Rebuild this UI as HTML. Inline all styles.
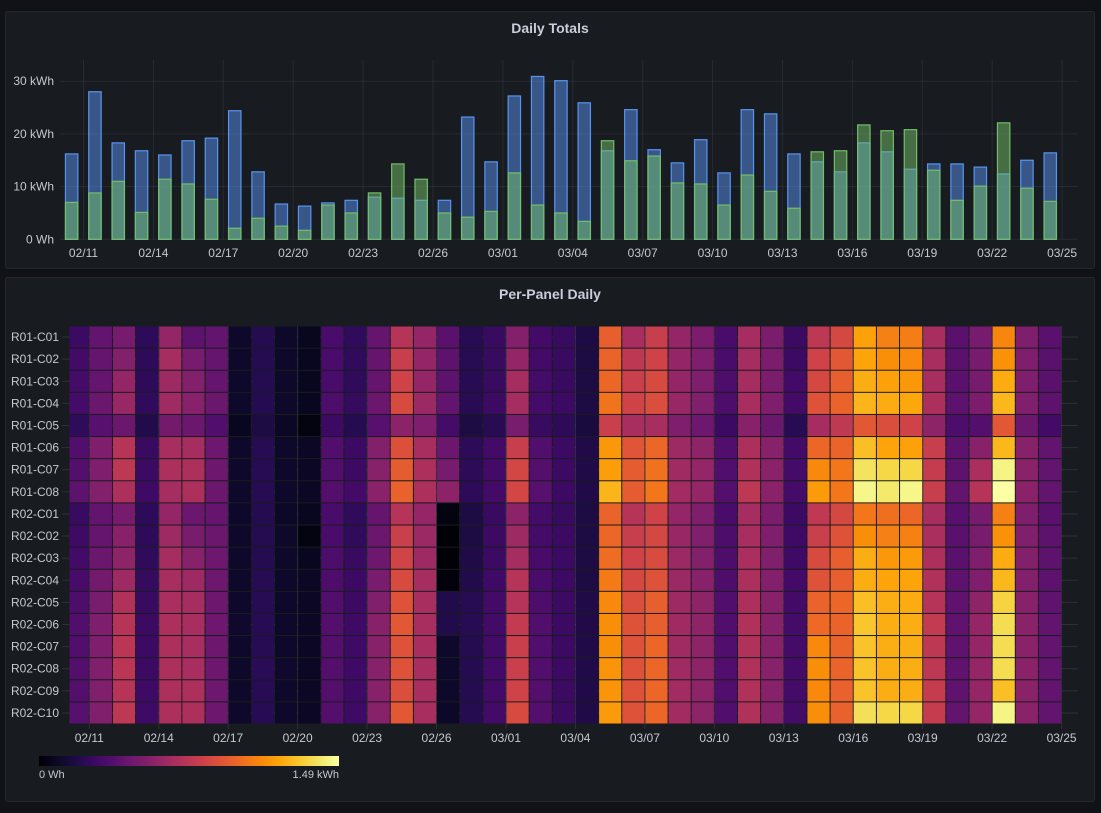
<!DOCTYPE html>
<html><head><meta charset="utf-8">
<style>
html,body{margin:0;padding:0;background:#111217;}
body{width:1101px;height:808px;overflow:hidden;font-family:"Liberation Sans",sans-serif;}
svg text{font-family:"Liberation Sans",sans-serif;}
</style></head>
<body>
<svg id="root" width="1101" height="808" viewBox="0 0 1101 808" xmlns="http://www.w3.org/2000/svg">
  <rect x="0" y="0" width="1101" height="808" fill="#111217"/>
  <rect x="5.5" y="11.5" width="1089" height="257" rx="2" fill="#181b1f" stroke="#24272d"/>
  <text x="550" y="33" text-anchor="middle" font-size="14" font-weight="600" fill="#ccccdc">Daily Totals</text>
  <rect x="5.5" y="277.5" width="1089" height="524" rx="2" fill="#181b1f" stroke="#24272d"/>
  <text x="550" y="299" text-anchor="middle" font-size="14" font-weight="600" fill="#ccccdc">Per-Panel Daily</text>
  <g id="topchart"></g>
  <g id="heat"></g>
  <g id="legend"></g>
</svg>
<script>
// ---- Daily Totals data (kWh) ----
const consumption = [16.2,28.0,18.3,16.8,16.0,18.7,19.2,24.4,12.8,6.7,6.3,6.9,7.4,8.0,7.8,7.4,7.4,23.2,14.7,27.2,30.9,30.1,25.9,16.8,24.6,17.0,14.5,18.9,12.6,24.6,23.8,16.2,14.7,12.8,18.3,16.6,13.3,14.3,14.3,13.7,12.4,15.0,16.4];
const production = [7.0,8.8,11.0,5.1,11.4,10.5,7.6,2.1,4.0,2.5,1.7,6.5,5.0,8.8,14.3,11.4,5.0,4.2,5.3,12.6,6.5,5.0,3.4,18.7,14.9,15.8,10.7,10.5,6.5,12.2,9.1,5.9,16.6,16.8,21.7,20.6,20.8,13.1,7.4,10.1,22.1,9.7,7.2];
const yTicks = [0,10,20,30];
const yTickLabels = ["0 Wh","10 kWh","20 kWh","30 kWh"];
const xTickDays = [1,4,7,10,13,16,19,22,25,28,31,34,37,40,43];
const xTickLabels = ["02/11","02/14","02/17","02/20","02/23","02/26","03/01","03/04","03/07","03/10","03/13","03/16","03/19","03/22","03/25"];

// ---- Heatmap data (kWh per panel per day) ----
const panelNames = ["R01-C01","R01-C02","R01-C03","R01-C04","R01-C05","R01-C06","R01-C07","R01-C08","R02-C01","R02-C02","R02-C03","R02-C04","R02-C05","R02-C06","R02-C07","R02-C08","R02-C09","R02-C10"];
const r01c01 = [.28,.42,.49,.24,.60,.40,.42,.10,.21,.10,.07,.33,.25,.43,.72,.60,.39,.22,.27,.54,.30,.27,.18,.95,.67,.79,.60,.51,.33,.66,.51,.28,.75,.85,1.18,1.07,1.06,.67,.39,.49,1.09,.52,.39];
const r01c02 = [.30,.43,.54,.24,.66,.49,.43,.10,.21,.10,.07,.33,.25,.43,.79,.60,.40,.22,.27,.60,.30,.27,.18,.97,.75,.82,.60,.52,.33,.66,.51,.28,.82,.92,1.19,1.12,1.10,.67,.39,.49,1.13,.52,.39];
const r01c03 = [.31,.43,.60,.24,.63,.54,.43,.10,.21,.10,.07,.33,.25,.43,.82,.60,.40,.22,.27,.66,.31,.27,.18,.98,.80,.86,.60,.52,.34,.66,.51,.30,.85,.95,1.22,1.18,1.15,.67,.39,.49,1.21,.52,.39];
const r01c04 = [.31,.45,.61,.25,.64,.55,.45,.10,.21,.10,.07,.34,.26,.45,.86,.62,.42,.22,.28,.66,.31,.28,.18,1.03,.82,.88,.61,.53,.34,.67,.52,.30,.90,.97,1.24,1.21,1.20,.69,.40,.51,1.25,.53,.40];
const r01c05 = [.25,.38,.45,.20,.48,.45,.36,.07,.18,.08,.03,.28,.21,.38,.57,.52,.31,.18,.22,.50,.27,.24,.16,.80,.67,.67,.52,.46,.28,.55,.45,.22,.66,.76,.92,.88,.82,.58,.34,.37,.92,.45,.30];
const r01c06 = [.36,.52,.72,.27,.67,.66,.46,.10,.22,.10,.08,.36,.28,.54,.89,.67,.45,.24,.30,.79,.36,.28,.19,1.15,.91,.98,.63,.58,.36,.69,.55,.30,.98,.97,1.27,1.19,1.18,.79,.40,.55,1.25,.55,.42];
const r01c07 = [.37,.52,.75,.28,.69,.69,.46,.10,.22,.10,.08,.36,.28,.55,.94,.69,.49,.24,.30,.84,.37,.28,.19,1.17,.94,1.02,.64,.60,.36,.70,.56,.31,1.10,1.04,1.38,1.34,1.34,.78,.40,.68,1.44,.56,.42];
const r01c08 = [.40,.54,.69,.29,.66,.69,.45,.10,.22,.10,.08,.37,.30,.56,.96,.69,.57,.24,.30,.84,.38,.28,.19,1.24,.94,1.04,.65,.60,.37,.75,.56,.31,1.16,1.04,1.45,1.40,1.45,.79,.42,.72,1.49,.56,.42];
const r02c01 = [.27,.42,.49,.24,.60,.45,.43,.10,.21,.09,.07,.33,.25,.43,.72,.60,.03,.18,.27,.57,.31,.27,.18,.97,.72,.82,.60,.52,.33,.66,.51,.28,.76,.85,1.04,1.01,.98,.67,.38,.49,1.07,.52,.39];
const r02c02 = [.29,.43,.55,.24,.63,.50,.45,.10,.21,.10,.03,.33,.25,.45,.80,.62,.01,.18,.28,.63,.31,.28,.18,.98,.79,.85,.61,.53,.34,.67,.52,.29,.80,.90,1.12,1.07,1.07,.68,.39,.50,1.13,.53,.40];
const r02c03 = [.30,.45,.58,.25,.66,.55,.46,.10,.21,.10,.07,.34,.27,.46,.83,.63,.01,.19,.28,.66,.32,.28,.18,1.00,.82,.87,.62,.54,.34,.68,.53,.29,.86,.95,1.22,1.15,1.16,.69,.39,.52,1.21,.54,.40];
const r02c04 = [.32,.48,.63,.26,.67,.63,.46,.10,.22,.10,.08,.35,.28,.50,.86,.66,.02,.20,.29,.72,.33,.28,.18,1.05,.85,.90,.62,.55,.35,.69,.54,.30,.90,.95,1.22,1.19,1.19,.70,.40,.52,1.25,.54,.40];
const r02c05 = [.34,.50,.70,.27,.68,.66,.46,.10,.22,.10,.08,.36,.28,.53,.90,.67,.20,.22,.30,.72,.35,.28,.19,1.10,.88,.95,.63,.58,.36,.69,.55,.30,.97,.98,1.27,1.22,1.21,.72,.41,.58,1.33,.55,.41];
const r02c06 = [.36,.52,.72,.28,.69,.67,.46,.11,.22,.10,.08,.37,.29,.55,.92,.67,.20,.22,.30,.77,.36,.28,.19,1.12,.90,.95,.64,.58,.36,.70,.55,.31,.99,.97,1.29,1.22,1.22,.77,.41,.60,1.36,.56,.42];
const r02c07 = [.36,.52,.74,.28,.69,.67,.46,.10,.22,.10,.08,.37,.29,.55,.90,.67,.10,.21,.30,.80,.36,.28,.19,1.12,.90,.98,.64,.58,.36,.70,.55,.31,1.10,.97,1.28,1.22,1.22,.75,.41,.60,1.36,.56,.42];
const r02c08 = [.37,.53,.74,.28,.69,.67,.46,.10,.23,.11,.08,.37,.29,.55,.90,.67,.10,.21,.30,.80,.36,.28,.19,1.14,.90,.98,.64,.58,.36,.70,.55,.31,1.12,.97,1.28,1.22,1.22,.75,.41,.60,1.36,.56,.42];
const r02c09 = [.37,.53,.72,.29,.69,.69,.46,.10,.22,.10,.08,.37,.29,.55,.88,.67,.10,.21,.30,.82,.37,.28,.19,1.14,.90,.98,.65,.58,.36,.70,.55,.31,1.10,.96,1.28,1.22,1.22,.78,.41,.60,1.27,.56,.42];
const r02c10 = [.38,.53,.75,.29,.69,.69,.46,.10,.22,.10,.08,.37,.29,.55,.92,.67,.09,.21,.30,.86,.37,.28,.19,1.16,.90,.98,.65,.58,.36,.70,.55,.31,1.12,.96,1.37,1.34,1.34,.78,.42,.60,1.44,.56,.42];
const panelValues = [r01c01,r01c02,r01c03,r01c04,r01c05,r01c06,r01c07,r01c08,r02c01,r02c02,r02c03,r02c04,r02c05,r02c06,r02c07,r02c08,r02c09,r02c10];
const colorMax = 1.49;
const legendLabels = ["0 Wh","1.49 kWh"];

const NS = "http://www.w3.org/2000/svg";
function mk(tag, attrs, parent){ const e=document.createElementNS(NS,tag); for(const k in attrs) e.setAttribute(k,attrs[k]); parent.appendChild(e); return e; }

// ---- top chart axes ----
const topG = document.getElementById('topchart');
const plotL = 60, plotR = 1078, plotT = 60, plotB = 239.3;
function yTop(v){ return 239.3 - v*5.27; }
function xTopDay(d){ return 83.5 + (d-1)*23.3; }
yTicks.forEach((t,i)=>{
  const y = yTop(t);
  const g = mk('line',{x1:plotL,x2:plotR,y1:y,y2:y,stroke:'rgba(204,204,220,0.09)','stroke-width':1},topG);
  
  
  const tx = mk('text',{x:54,y:y+4,'text-anchor':'end','font-size':12,fill:'#c7c8d0'},topG);
  tx.textContent = yTickLabels[i];
  
  
});
xTickDays.forEach((d,i)=>{
  const x = xTopDay(d);
  const g = mk('line',{x1:x,x2:x,y1:plotT,y2:plotB,stroke:'rgba(204,204,220,0.09)','stroke-width':1},topG);
  
  
  const tx = mk('text',{x:x,y:257,'text-anchor':'middle','font-size':12,fill:'#c7c8d0'},topG);
  tx.textContent = xTickLabels[i];
  
  
});
consumption.forEach((v,i)=>{
  const cx = xTopDay(i+0.5) - 0.2;
  const w = 12.4;
  const r = mk('rect',{x:cx-w/2,y:yTop(v),width:w,height:yTop(0)-yTop(v),fill:'rgba(87,148,242,0.5)',stroke:'#5794f2','stroke-width':1.2},topG);
  
  
});
production.forEach((v,i)=>{
  const cx = xTopDay(i+0.5) - 0.2;
  const w = 12.4;
  const r = mk('rect',{x:cx-w/2,y:yTop(v),width:w,height:yTop(0)-yTop(v),fill:'rgba(115,191,105,0.5)',stroke:'#73bf69','stroke-width':1.2},topG);
  
  
});

// ---- inferno colour scale ----
const inferno = [[0,0,4],[10,7,34],[22,11,57],[40,11,84],[66,10,104],[85,15,109],[106,23,110],[126,30,108],[147,38,103],[168,46,95],[188,55,84],[206,66,72],[221,81,58],[234,99,42],[243,120,25],[249,142,9],[252,165,10],[250,190,35],[246,215,70],[242,238,117],[252,255,164]];
function color(v){
  let t = Math.max(0,Math.min(1,v/colorMax))*(inferno.length-1);
  const i = Math.min(inferno.length-2, Math.floor(t)); const f = t-i;
  const a=inferno[i], b=inferno[i+1];
  return 'rgb('+[0,1,2].map(k=>Math.round(a[k]+(b[k]-a[k])*f)).join(',')+')';
}

// ---- heatmap ----
const heat = document.getElementById('heat');
const hL = 69, hR = 1062, hT = 326, hB = 724;
const rowH = (hB-hT)/panelNames.length;
function xH(d){ return 89.3 + (d-1)*23.15; }
xTickDays.forEach((d,i)=>{
  const x = xH(d);
  const g = mk('line',{x1:x,x2:x,y1:hT,y2:hB+5,stroke:'rgba(204,204,220,0.12)','stroke-width':1},heat);
  
  
  const tx = mk('text',{x:x,y:742,'text-anchor':'middle','font-size':12,fill:'#c7c8d0'},heat);
  tx.textContent = xTickLabels[i];
  
  
});
panelNames.forEach((name,r)=>{
  const yc = hT + (r+0.5)*rowH;
  const g = mk('line',{x1:62,x2:1078,y1:yc,y2:yc,stroke:'rgba(204,204,220,0.12)','stroke-width':1},heat);
  
  
  const tx = mk('text',{x:59,y:yc+4,'text-anchor':'end','font-size':12,fill:'#c7c8d0'},heat);
  tx.textContent = name;
  
  
});
panelValues.forEach((row,r)=>{
  row.forEach((v,c)=>{
    const x0 = Math.max(hL, xH(c)), x1 = Math.min(hR, xH(c+1));
    const y0 = hT + r*rowH;
    const cell = mk('rect',{x:x0+0.5,y:y0+0.5,width:x1-x0-1,height:rowH-1,fill:color(v)},heat);
    
    
  });
});

// ---- legend ----
const lg = document.getElementById('legend');
const defs = mk('defs',{},lg);
const grad = mk('linearGradient',{id:'infernoGrad',x1:0,x2:1,y1:0,y2:0},defs);
inferno.forEach((c,i)=>{ mk('stop',{offset:(i/(inferno.length-1)),'stop-color':'rgb('+c.join(',')+')'},grad); });
const lb = mk('rect',{x:39,y:756,width:300,height:10,fill:'url(#infernoGrad)'},lg);


const l0 = mk('text',{x:39,y:778,'font-size':11,fill:'#c7c8d0'},lg);
l0.textContent = legendLabels[0];


const l1 = mk('text',{x:339,y:778,'text-anchor':'end','font-size':11,fill:'#c7c8d0'},lg);
l1.textContent = legendLabels[1];


</script>
</body></html>
